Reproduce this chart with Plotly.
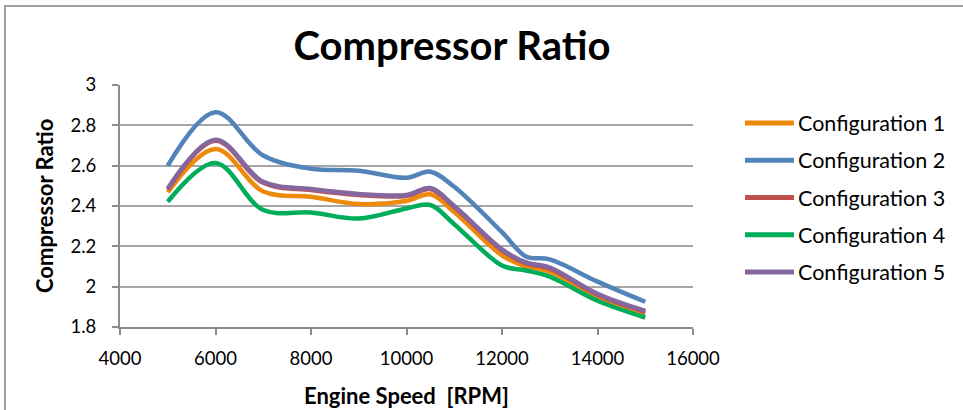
import plotly.graph_objects as go

# Engine speed sample points [RPM]
rpm = [5000, 6000, 7000, 8000, 9000, 10000, 10500, 11000, 12000, 12500, 13000, 14000, 15000]

# Compressor pressure ratio per configuration
config_1 = [2.468, 2.683, 2.472, 2.446, 2.410, 2.425, 2.458, 2.370, 2.155, 2.100, 2.075, 1.952, 1.867]
config_2 = [2.600, 2.865, 2.650, 2.585, 2.575, 2.540, 2.570, 2.495, 2.270, 2.150, 2.135, 2.025, 1.925]
config_3 = [2.482, 2.724, 2.515, 2.479, 2.455, 2.450, 2.484, 2.395, 2.180, 2.115, 2.090, 1.960, 1.875]
config_4 = [2.421, 2.613, 2.380, 2.368, 2.338, 2.388, 2.405, 2.310, 2.105, 2.080, 2.050, 1.930, 1.847]
config_5 = [2.487, 2.729, 2.520, 2.484, 2.460, 2.455, 2.489, 2.400, 2.185, 2.120, 2.095, 1.965, 1.880]

series_names = ["Configuration 1", "Configuration 2", "Configuration 3",
                "Configuration 4", "Configuration 5"]
series_values = [config_1, config_2, config_3, config_4, config_5]
series_colors = ["#EC8A0C", "#5284BA", "#C0504D", "#00AD5A", "#8567A0"]

x_ticks = [4000, 6000, 8000, 10000, 12000, 14000, 16000]
y_ticks = [1.8, 2.0, 2.2, 2.4, 2.6, 2.8, 3.0]

FONT = "Lato"
W, H = 963, 410
M_L, M_R, M_T, M_B = 120, 270, 85, 83
PW, PH = W - M_L - M_R, H - M_T - M_B


def px_to_paper_x(px):
    return (px - M_L) / PW


def px_to_paper_y(py):
    return (H - M_B - py) / PH


fig = go.Figure()
for name, vals, col in zip(series_names, series_values, series_colors):
    fig.add_trace(go.Scatter(
        x=rpm, y=vals, name=name, mode="lines",
        line=dict(color=col, width=4.5, shape="spline", smoothing=1.0),
        showlegend=False,
    ))

grid_col = "#A6A6A6"
axis_col = "#8C8C8C"

fig.update_xaxes(
    range=[4000, 16000], tickvals=x_ticks, tickformat="d",
    showgrid=False, zeroline=False,
    showline=True, linecolor=axis_col, linewidth=2,
    ticks="outside", ticklen=6, tickwidth=2, tickcolor=axis_col,
    ticklabelstandoff=8,
    tickfont=dict(family=FONT, size=18.5, color="#000000"),
)
fig.update_yaxes(
    range=[1.8, 3.0], tickvals=y_ticks,
    showgrid=True, gridcolor=grid_col, gridwidth=2, zeroline=False,
    showline=True, linecolor=axis_col, linewidth=2,
    ticks="outside", ticklen=6, tickwidth=2, tickcolor=axis_col,
    ticklabelstandoff=12,
    tickfont=dict(family=FONT, size=18.5, color="#000000"),
)

annotations = [
    dict(text="<b>Engine Speed  [RPM]</b>", x=0.5, y=px_to_paper_y(395),
         xref="paper", yref="paper", xanchor="center", yanchor="middle",
         showarrow=False, font=dict(family=FONT, size=22, color="#000000")),
    dict(text="<b>Compressor Ratio</b>", x=px_to_paper_x(44), y=0.5,
         xref="paper", yref="paper", xanchor="center", yanchor="middle",
         textangle=-90, showarrow=False,
         font=dict(family=FONT, size=22, color="#000000")),
]

shapes = [
    # outer chart frame (only left and top edges fall inside the page)
    dict(type="rect", xref="paper", yref="paper",
         x0=px_to_paper_x(5), x1=px_to_paper_x(1200),
         y0=px_to_paper_y(600), y1=px_to_paper_y(6),
         line=dict(color="#A0A0A0", width=2), fillcolor="rgba(0,0,0,0)", layer="below"),
]

# legend built from line samples and labels
leg_top, leg_step = 123, 37.25
for i, (name, col) in enumerate(zip(series_names, series_colors)):
    yc = px_to_paper_y(leg_top + i * leg_step)
    shapes.append(dict(type="line", xref="paper", yref="paper",
                       x0=px_to_paper_x(745), x1=px_to_paper_x(794), y0=yc, y1=yc,
                       line=dict(color=col, width=5)))
    annotations.append(dict(text=name, x=px_to_paper_x(796), y=yc,
                            xref="paper", yref="paper", xanchor="left", yanchor="middle",
                            showarrow=False,
                            font=dict(family=FONT, size=21.5, color="#000000")))

fig.update_layout(
    width=W, height=H,
    margin=dict(l=M_L, r=M_R, t=M_T, b=M_B),
    paper_bgcolor="#FFFFFF", plot_bgcolor="#FFFFFF",
    title=dict(text="<b>Compressor Ratio</b>", x=452 / W, xanchor="center",
               y=1 - 46 / H, yanchor="middle", yref="container",
               font=dict(family=FONT, size=40, color="#000000")),
    annotations=annotations,
    shapes=shapes,
    showlegend=False,
)

fig.write_html("out.html")
